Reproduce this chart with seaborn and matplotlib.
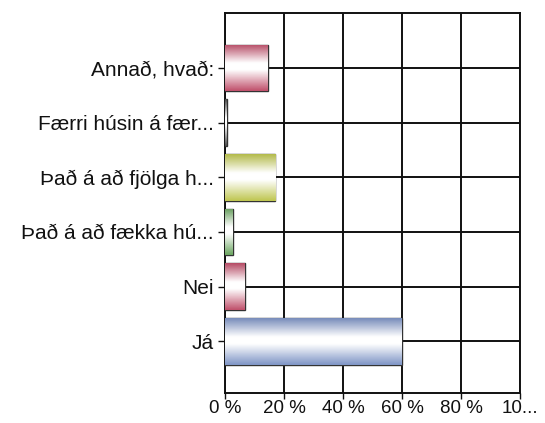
"""Horizontal bar chart of survey answers (Icelandic), cylinder-style bars."""
import matplotlib
matplotlib.use("Agg")
import matplotlib.pyplot as plt
import numpy as np
import pandas as pd
import seaborn as sns
from matplotlib.colors import LinearSegmentedColormap, to_rgb

categories = [
    "Annað, hvað:",
    "Færri húsin á fær...",
    "Það á að fjölga h...",
    "Það á að fækka hú...",
    "Nei",
    "Já",
]
values = [14.5, 0.5, 17.0, 2.7, 6.7, 60.0]
bar_colors = ["#d65a78", "#555555", "#d4dc5a", "#78b86c", "#d65a78", "#8ea6dc"]
x_ticks = [0, 20, 40, 60, 80, 100]
x_tick_labels = ["0 %", "20 %", "40 %", "60 %", "80 %", "10..."]

df = pd.DataFrame({"answer": categories, "percent": values})

sns.set_style("white")
plt.rcParams["font.family"] = ["Liberation Sans", "DejaVu Sans"]

fig = plt.figure(figsize=(5.45, 4.23), dpi=100)
ax = fig.add_axes([0.413, 0.07, 0.541, 0.899])

sns.barplot(data=df, x="percent", y="answer", hue="answer", palette=bar_colors,
            orient="h", width=0.85, legend=False, ax=ax, zorder=3,
            edgecolor="#333333", linewidth=1.0)

# cylinder shading: colour at the edges, white band just above the middle
for patch, col in zip(ax.patches, bar_colors):
    x0, y0 = patch.get_x(), patch.get_y()
    w, h = patch.get_width(), patch.get_height()
    c = np.array(to_rgb(col))
    cmap = LinearSegmentedColormap.from_list(
        "cyl", [(0, c * 0.85), (0.4, (1, 1, 1)), (0.55, (1, 1, 1)), (1, c * 0.9)])
    grad = np.linspace(0, 1, 64).reshape(-1, 1)
    im = ax.imshow(grad, cmap=cmap, aspect="auto", zorder=3.5,
                   extent=[x0, x0 + w, y0 + h, y0], origin="upper")
    im.set_clip_path(patch)

ax.set_xlim(0, 100)
ax.set_ylim(5.95, -1.0)
ax.set_xticks(x_ticks)
ax.set_xticklabels(x_tick_labels)
ax.set_xlabel("")
ax.set_ylabel("")

ax.grid(True, color="#111111", linewidth=1.4, zorder=1)
ax.set_axisbelow(True)
for side in ["left", "right", "top", "bottom"]:
    ax.spines[side].set_visible(True)
    ax.spines[side].set_color("#111111")
    ax.spines[side].set_linewidth(1.4)

ax.tick_params(axis="both", direction="out", width=1.0,
               color="#111111", labelcolor="#111111")
ax.tick_params(axis="x", length=4, pad=1, labelsize=13.5, bottom=True)
ax.tick_params(axis="y", length=5, pad=3, labelsize=15, left=True)

plt.savefig("out.png", dpi=100)
plt.close()
